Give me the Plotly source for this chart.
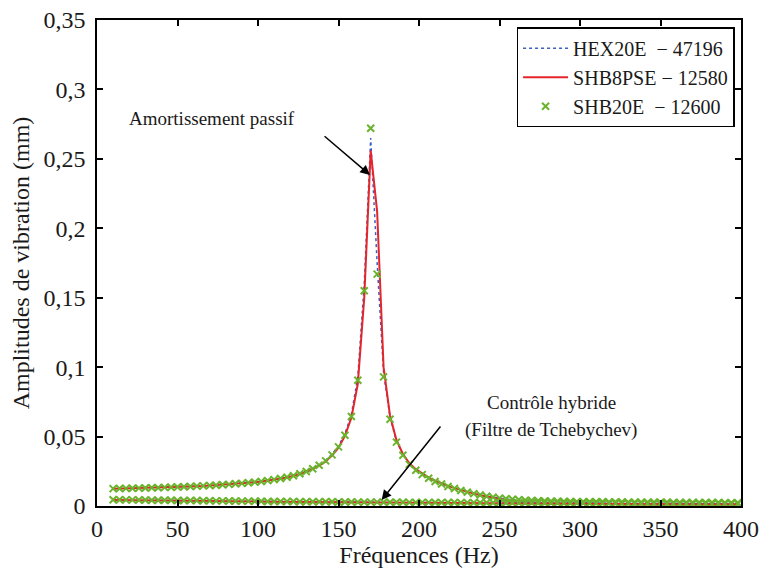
import plotly.graph_objects as go

# frequency grid (Hz), one point every 4 Hz
freq = list(range(10, 399, 4))

# passive damping response (mm)
shb20e_passif = [
    0.0125, 0.0126, 0.0127, 0.0128, 0.0129, 0.0130, 0.0131, 0.0132, 0.0134, 0.0135,
    0.0137, 0.0139, 0.0141, 0.0143, 0.0145, 0.0148, 0.0150, 0.0153, 0.0156, 0.0160,
    0.0163, 0.0167, 0.0172, 0.0177, 0.0183, 0.0190, 0.0198, 0.0207, 0.0218, 0.0232,
    0.0248, 0.0268, 0.0293, 0.0325, 0.0368, 0.0426, 0.0510, 0.0645, 0.0905, 0.1550,
    0.2720, 0.1670, 0.0930, 0.0625, 0.0460, 0.0365, 0.0300, 0.0258, 0.0226, 0.0200,
    0.0177, 0.0158, 0.0141, 0.0126, 0.0112, 0.0100, 0.0089, 0.0079, 0.0070, 0.0063,
    0.0057, 0.0052, 0.0048, 0.0045, 0.0042, 0.0040, 0.0038, 0.0036, 0.0035, 0.0034,
    0.0033, 0.0032, 0.0031, 0.0031, 0.0030, 0.0030, 0.0030, 0.0029, 0.0029, 0.0029,
    0.0028, 0.0028, 0.0028, 0.0027, 0.0027, 0.0027, 0.0027, 0.0026, 0.0026, 0.0026,
    0.0026, 0.0025, 0.0025, 0.0025, 0.0025, 0.0024, 0.0024, 0.0024,
]
shb8pse_passif = [
    0.0124, 0.0125, 0.0126, 0.0127, 0.0128, 0.0129, 0.0130, 0.0131, 0.0133, 0.0134,
    0.0136, 0.0138, 0.0140, 0.0142, 0.0144, 0.0147, 0.0149, 0.0152, 0.0155, 0.0159,
    0.0162, 0.0166, 0.0171, 0.0176, 0.0182, 0.0189, 0.0197, 0.0206, 0.0217, 0.0230,
    0.0246, 0.0266, 0.0290, 0.0321, 0.0363, 0.0420, 0.0505, 0.0635, 0.0880, 0.1500,
    0.2560, 0.2120, 0.1000, 0.0650, 0.0475, 0.0375, 0.0308, 0.0265, 0.0232, 0.0205,
    0.0182, 0.0162, 0.0145, 0.0129, 0.0114, 0.0101, 0.0089, 0.0078, 0.0068, 0.0059,
    0.0051, 0.0044, 0.0038, 0.0033, 0.0029, 0.0026, 0.0023, 0.0021, 0.0019, 0.0018,
    0.0017, 0.0016, 0.0015, 0.0015, 0.0015, 0.0014, 0.0014, 0.0014, 0.0014, 0.0013,
    0.0013, 0.0013, 0.0013, 0.0013, 0.0012, 0.0012, 0.0012, 0.0012, 0.0012, 0.0012,
    0.0011, 0.0011, 0.0011, 0.0011, 0.0011, 0.0011, 0.0011, 0.0011,
]
hex20e_passif = [
    0.0125, 0.0126, 0.0127, 0.0128, 0.0129, 0.0130, 0.0131, 0.0132, 0.0134, 0.0135,
    0.0137, 0.0139, 0.0141, 0.0143, 0.0145, 0.0148, 0.0150, 0.0153, 0.0156, 0.0160,
    0.0163, 0.0167, 0.0172, 0.0177, 0.0183, 0.0190, 0.0198, 0.0208, 0.0219, 0.0233,
    0.0250, 0.0270, 0.0296, 0.0329, 0.0373, 0.0433, 0.0520, 0.0660, 0.0930, 0.1600,
    0.2650, 0.1750, 0.0960, 0.0640, 0.0468, 0.0370, 0.0304, 0.0261, 0.0229, 0.0203,
    0.0180, 0.0160, 0.0143, 0.0127, 0.0113, 0.0101, 0.0090, 0.0080, 0.0071, 0.0063,
    0.0056, 0.0050, 0.0045, 0.0041, 0.0037, 0.0034, 0.0032, 0.0030, 0.0028, 0.0027,
    0.0026, 0.0025, 0.0024, 0.0024, 0.0023, 0.0023, 0.0022, 0.0022, 0.0022, 0.0021,
    0.0021, 0.0021, 0.0020, 0.0020, 0.0020, 0.0020, 0.0019, 0.0019, 0.0019, 0.0019,
    0.0018, 0.0018, 0.0018, 0.0018, 0.0018, 0.0017, 0.0017, 0.0017,
]

# hybrid control (Chebyshev filter) response (mm)
shb20e_hybride = [
    0.0045, 0.0045, 0.0044, 0.0044, 0.0043, 0.0043, 0.0042, 0.0042, 0.0041, 0.0041,
    0.0040, 0.0040, 0.0039, 0.0039, 0.0038, 0.0038, 0.0037, 0.0037, 0.0036, 0.0036,
    0.0035, 0.0035, 0.0034, 0.0034, 0.0033, 0.0033, 0.0033, 0.0032, 0.0032, 0.0031,
    0.0031, 0.0031, 0.0030, 0.0030, 0.0030, 0.0029, 0.0029, 0.0029, 0.0028, 0.0028,
    0.0028, 0.0028, 0.0027, 0.0027, 0.0027, 0.0027, 0.0026, 0.0026, 0.0026, 0.0026,
    0.0025, 0.0025, 0.0025, 0.0025, 0.0024, 0.0024, 0.0024, 0.0024, 0.0023, 0.0023,
    0.0023, 0.0023, 0.0022, 0.0022, 0.0022, 0.0022, 0.0021, 0.0021, 0.0021, 0.0021,
    0.0020, 0.0020, 0.0020, 0.0020, 0.0019, 0.0019, 0.0019, 0.0019, 0.0019, 0.0018,
    0.0018, 0.0018, 0.0018, 0.0018, 0.0017, 0.0017, 0.0017, 0.0017, 0.0017, 0.0017,
    0.0016, 0.0016, 0.0016, 0.0016, 0.0016, 0.0016, 0.0016, 0.0016,
]
shb8pse_hybride = [
    0.0043, 0.0043, 0.0042, 0.0042, 0.0041, 0.0041, 0.0040, 0.0040, 0.0039, 0.0039,
    0.0038, 0.0038, 0.0037, 0.0037, 0.0036, 0.0036, 0.0035, 0.0035, 0.0034, 0.0034,
    0.0033, 0.0033, 0.0032, 0.0032, 0.0031, 0.0031, 0.0031, 0.0030, 0.0030, 0.0029,
    0.0029, 0.0029, 0.0028, 0.0028, 0.0028, 0.0027, 0.0027, 0.0027, 0.0026, 0.0026,
    0.0026, 0.0026, 0.0025, 0.0025, 0.0025, 0.0024, 0.0024, 0.0024, 0.0023, 0.0023,
    0.0023, 0.0022, 0.0022, 0.0022, 0.0021, 0.0021, 0.0021, 0.0020, 0.0020, 0.0020,
    0.0019, 0.0019, 0.0019, 0.0018, 0.0018, 0.0018, 0.0017, 0.0017, 0.0017, 0.0016,
    0.0016, 0.0016, 0.0016, 0.0015, 0.0015, 0.0015, 0.0015, 0.0014, 0.0014, 0.0014,
    0.0014, 0.0013, 0.0013, 0.0013, 0.0013, 0.0013, 0.0012, 0.0012, 0.0012, 0.0012,
    0.0012, 0.0012, 0.0011, 0.0011, 0.0011, 0.0011, 0.0011, 0.0011,
]
hex20e_hybride = [
    0.0044, 0.0044, 0.0043, 0.0043, 0.0042, 0.0042, 0.0041, 0.0041, 0.0040, 0.0040,
    0.0039, 0.0039, 0.0038, 0.0038, 0.0037, 0.0037, 0.0036, 0.0036, 0.0035, 0.0035,
    0.0034, 0.0034, 0.0033, 0.0033, 0.0032, 0.0032, 0.0032, 0.0031, 0.0031, 0.0030,
    0.0030, 0.0030, 0.0029, 0.0029, 0.0029, 0.0028, 0.0028, 0.0028, 0.0027, 0.0027,
    0.0027, 0.0027, 0.0026, 0.0026, 0.0026, 0.0026, 0.0025, 0.0025, 0.0025, 0.0025,
    0.0024, 0.0024, 0.0024, 0.0024, 0.0023, 0.0023, 0.0023, 0.0023, 0.0022, 0.0022,
    0.0022, 0.0022, 0.0021, 0.0021, 0.0021, 0.0021, 0.0020, 0.0020, 0.0020, 0.0020,
    0.0019, 0.0019, 0.0019, 0.0019, 0.0018, 0.0018, 0.0018, 0.0018, 0.0018, 0.0017,
    0.0017, 0.0017, 0.0017, 0.0017, 0.0016, 0.0016, 0.0016, 0.0016, 0.0016, 0.0016,
    0.0015, 0.0015, 0.0015, 0.0015, 0.0015, 0.0015, 0.0015, 0.0015,
]

ytick_vals = [0, 0.05, 0.1, 0.15, 0.2, 0.25, 0.3, 0.35]
ytick_text = ['0', '0,05', '0,1', '0,15', '0,2', '0,25', '0,3', '0,35']
xtick_vals = [0, 50, 100, 150, 200, 250, 300, 350, 400]

NB = '\u00a0'
names = ['HEX20E' + NB * 2 + '\u2212 47196',
         'SHB8PSE \u2212 12580',
         'SHB20E' + NB * 2 + '\u2212 12600']

BLUE = '#3d5fc4'
RED = '#e4262b'
GREEN = '#6ab42d'
FONT = 'Liberation Serif'
TXT = '#1a1a1a'

fig = go.Figure()

for i, (hx, sp, sh) in enumerate([(hex20e_passif, shb8pse_passif, shb20e_passif),
                                   (hex20e_hybride, shb8pse_hybride, shb20e_hybride)]):
    show = (i == 0)
    fig.add_trace(go.Scatter(x=freq, y=hx, mode='lines', name=names[0],
                             line=dict(color=BLUE, width=1.5, dash='dot'),
                             showlegend=show, legendrank=1))
    fig.add_trace(go.Scatter(x=freq, y=sp, mode='lines', name=names[1],
                             line=dict(color=RED, width=2),
                             showlegend=show, legendrank=2))
    fig.add_trace(go.Scatter(x=freq, y=sh, mode='markers', name=names[2],
                             marker=dict(symbol='x-thin', size=7, color=GREEN,
                                         line=dict(color=GREEN, width=2)),
                             showlegend=show, legendrank=3))

# annotations
ann_font = dict(family=FONT, size=19, color=TXT)
fig.add_annotation(x=169.6, y=0.2384, ax=-47, ay=-40, text='',
                   showarrow=True, arrowhead=2, arrowsize=1.3, arrowwidth=1.5,
                   arrowcolor='black')
fig.add_annotation(x=71.5, y=0.279, text='Amortissement passif', showarrow=False,
                   font=ann_font)
fig.add_annotation(x=176.8, y=0.0043, ax=60, ay=-75, text='',
                   showarrow=True, arrowhead=2, arrowsize=1.3, arrowwidth=1.5,
                   arrowcolor='black')
fig.add_annotation(x=282, y=0.0742, text='Contrôle hybride', showarrow=False,
                   font=ann_font)
fig.add_annotation(x=282, y=0.0547, text='(Filtre de Tchebychev)', showarrow=False,
                   font=ann_font)

axis_common = dict(showline=True, linecolor='black', linewidth=1.5, mirror='ticks',
                   ticks='inside', ticklen=6, tickcolor='black', tickwidth=1.5,
                   showgrid=False, zeroline=False, automargin=False,
                   ticklabeloverflow='allow',
                   tickfont=dict(family=FONT, size=24, color=TXT),
                   title_font=dict(family=FONT, size=24, color=TXT))

# the page body adds an 8px margin, so the figure is sized 8px smaller
fig.update_layout(
    width=760, height=563,
    margin=dict(l=89, r=27, t=12, b=65),
    paper_bgcolor='white', plot_bgcolor='white',
    font=dict(family=FONT, color=TXT),
    xaxis=dict(range=[0, 400], tickvals=xtick_vals,
               title=dict(text='Fréquences (Hz)', standoff=0), **axis_common),
    yaxis=dict(range=[0, 0.35], tickvals=ytick_vals, ticktext=ytick_text,
               title=dict(text='Amplitudes de vibration (mm)', standoff=10),
               ticklabelstandoff=5, **axis_common),
    legend=dict(x=0.99, y=0.985, xanchor='right', yanchor='top',
                bgcolor='white', bordercolor='black', borderwidth=1.5,
                font=dict(family=FONT, size=20, color=TXT), itemwidth=45,
                tracegroupgap=0),
    showlegend=True,
)

fig.write_html('out.html')
